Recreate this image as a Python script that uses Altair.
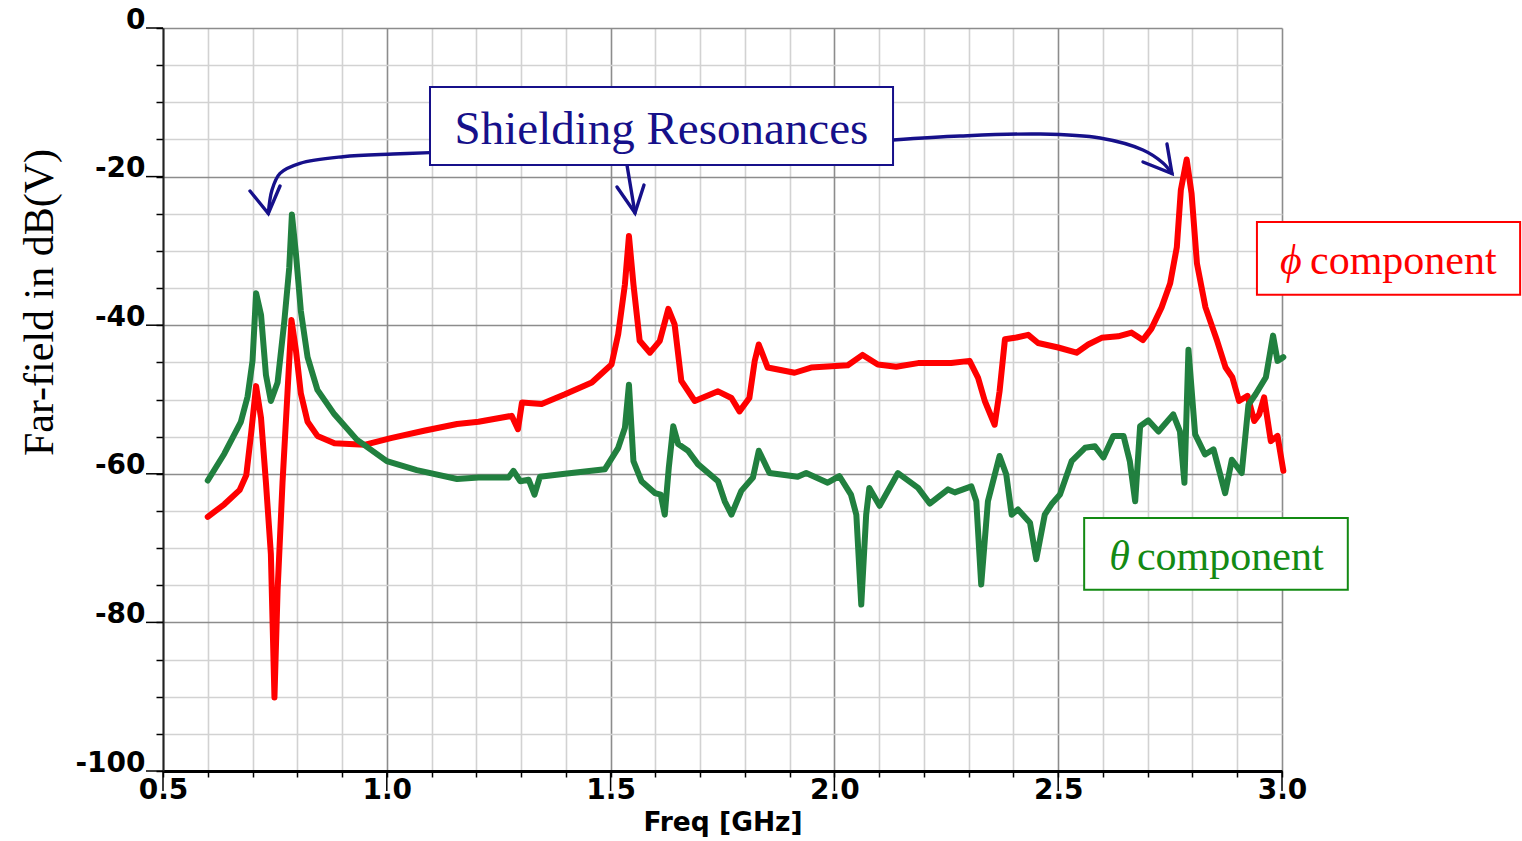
import altair as alt
import pandas as pd

# ---------------- data ----------------
phi_freq = [0.600, 0.637, 0.671, 0.686, 0.697, 0.708, 0.719, 0.730, 0.741, 0.749,
            0.756, 0.767, 0.778, 0.787, 0.797, 0.808, 0.823, 0.845, 0.883, 0.950,
            1.009, 1.083, 1.157, 1.205, 1.279, 1.293, 1.302, 1.346, 1.398, 1.458,
            1.502, 1.517, 1.532, 1.541, 1.551, 1.565, 1.588, 1.610, 1.629, 1.643,
            1.658, 1.688, 1.740, 1.770, 1.788, 1.810, 1.822, 1.831, 1.851, 1.911,
            1.948, 2.030, 2.063, 2.097, 2.138, 2.187, 2.261, 2.302, 2.321, 2.336,
            2.358, 2.369, 2.381, 2.403, 2.433, 2.455, 2.500, 2.541, 2.567, 2.597,
            2.634, 2.664, 2.689, 2.708, 2.731, 2.750, 2.765, 2.774, 2.787, 2.798,
            2.810, 2.829, 2.855, 2.874, 2.889, 2.904, 2.923, 2.938, 2.949, 2.960,
            2.975, 2.990, 3.003]
phi_db = [-65.8, -64.1, -62.2, -60.2, -54.5, -48.2, -52.5, -61.2, -70.8, -90.1,
          -75.7, -61.2, -49.2, -39.3, -43.4, -49.2, -53.0, -54.9, -55.9, -56.1,
          -55.2, -54.2, -53.3, -53.0, -52.2, -54.0, -50.4, -50.6, -49.3, -47.7,
          -45.3, -41.2, -34.5, -28.0, -34.5, -42.1, -43.7, -42.1, -37.8, -39.9,
          -47.5, -50.2, -48.9, -49.8, -51.6, -49.8, -44.8, -42.6, -45.7, -46.4,
          -45.7, -45.4, -44.0, -45.3, -45.6, -45.1, -45.1, -44.8, -47.1, -50.2,
          -53.4, -48.9, -41.9, -41.7, -41.3, -42.4, -43.0, -43.7, -42.6, -41.7,
          -41.5, -41.0, -42.0, -40.5, -37.6, -34.4, -29.5, -21.8, -17.7, -22.3,
          -31.7, -37.6, -42.1, -45.7, -47.0, -50.2, -49.5, -52.9, -52.0, -49.7,
          -55.6, -54.9, -59.6]

theta_freq = [0.600, 0.637, 0.674, 0.689, 0.700, 0.708, 0.719, 0.730, 0.741, 0.756,
              0.771, 0.782, 0.788, 0.797, 0.808, 0.823, 0.845, 0.883, 0.933, 1.000,
              1.067, 1.157, 1.205, 1.272, 1.283, 1.298, 1.317, 1.330, 1.342, 1.398,
              1.487, 1.517, 1.532, 1.541, 1.551, 1.569, 1.599, 1.612, 1.621, 1.630,
              1.640, 1.651, 1.673, 1.695, 1.740, 1.755, 1.770, 1.792, 1.818, 1.831,
              1.855, 1.918, 1.937, 1.985, 2.011, 2.037, 2.049, 2.060, 2.071, 2.078,
              2.101, 2.142, 2.187, 2.213, 2.254, 2.269, 2.306, 2.317, 2.328, 2.343,
              2.369, 2.384, 2.396, 2.410, 2.437, 2.451, 2.470, 2.485, 2.504, 2.530,
              2.560, 2.582, 2.601, 2.623, 2.646, 2.660, 2.672, 2.683, 2.701, 2.724,
              2.757, 2.772, 2.782, 2.791, 2.806, 2.828, 2.847, 2.873, 2.888, 2.910,
              2.925, 2.941, 2.964, 2.980, 2.990, 3.003]
theta_db = [-60.9, -57.3, -53.0, -49.6, -44.8, -35.7, -38.6, -46.7, -50.2, -47.7,
            -39.5, -32.3, -25.1, -30.4, -38.1, -44.3, -48.7, -52.0, -55.4, -58.3,
            -59.5, -60.7, -60.5, -60.5, -59.6, -61.0, -60.8, -62.8, -60.4, -60.0,
            -59.4, -56.5, -53.8, -48.0, -58.3, -61.0, -62.6, -62.8, -65.5, -59.2,
            -53.6, -56.0, -56.9, -58.7, -61.0, -63.7, -65.5, -62.3, -60.5, -56.9,
            -59.9, -60.4, -59.9, -61.2, -60.3, -62.8, -65.5, -77.6, -65.5, -61.9,
            -64.3, -59.9, -61.9, -64.0, -62.1, -62.5, -61.7, -63.7, -74.9, -63.7,
            -57.6, -60.1, -65.5, -64.8, -66.6, -71.5, -65.5, -64.1, -62.8, -58.3,
            -56.5, -56.3, -57.8, -54.9, -54.9, -58.3, -63.7, -53.6, -52.8, -54.3,
            -52.0, -54.3, -61.2, -43.3, -54.7, -57.4, -56.7, -62.6, -58.1, -59.9,
            -50.7, -49.3, -47.0, -41.4, -44.8, -44.3]

x_ticks = [0.5, 0.6, 0.7, 0.8, 0.9, 1.0, 1.1, 1.2, 1.3, 1.4, 1.5, 1.6, 1.7,
           1.8, 1.9, 2.0, 2.1, 2.2, 2.3, 2.4, 2.5, 2.6, 2.7, 2.8, 2.9, 3.0]
x_major = [0.5, 1.0, 1.5, 2.0, 2.5, 3.0]
y_ticks = [0, -5, -10, -15, -20, -25, -30, -35, -40, -45, -50, -55, -60,
           -65, -70, -75, -80, -85, -90, -95, -100]
y_major = [0, -20, -40, -60, -80, -100]

# annotation geometry (data units: GHz, dB)
arrow_left_f = [1.0965, 1.0139, 0.9021, 0.8060, 0.7614, 0.7435, 0.7353]
arrow_left_db = [-16.78, -16.96, -17.32, -18.21, -19.56, -21.80, -24.97]
arrow_mid_f = [1.5366, 1.5545]
arrow_mid_db = [-18.44, -24.90]
arrow_right_f = [2.131, 2.2806, 2.4593, 2.5934, 2.6894, 2.7341, 2.7542]
arrow_right_db = [-15.07, -14.54, -14.27, -14.80, -16.42, -18.17, -19.58]
head_f = [[0.6944, 0.7353, 0.7614], [1.5143, 1.5545, 1.5746], [2.6894, 2.7542, 2.7430]]
head_db = [[-21.94, -24.97, -21.27], [-21.40, -24.90, -21.13], [-18.03, -19.58, -15.61]]

box_names = ["shield", "phi", "theta"]
box_x1 = [1.0965, 2.944, 2.558]
box_x2 = [2.131, 3.532, 3.147]
box_y1 = [-7.94, -26.1, -65.95]
box_y2 = [-18.44, -35.9, -75.6]
box_colors = ["#16108a", "#ff0000", "#138a13"]

NAVY = "#16108a"
RED = "#ff0000"
GREEN_LINE = "#21803f"
GREEN_TXT = "#138a13"

W, H = 1119, 743
xs = alt.Scale(domain=[0.5, 3.0], nice=False, zero=False)
ys = alt.Scale(domain=[-100, 0], nice=False, zero=False)

grid_x = {"condition": {"test": "abs(datum.value*2 - round(datum.value*2)) < 0.001",
                        "value": "#8c8c8c"}, "value": "#d2d2d2"}
grid_y = {"condition": {"test": "datum.value % 20 === 0", "value": "#8c8c8c"},
          "value": "#d2d2d2"}

x_axis = alt.Axis(
    values=x_ticks,
    labelExpr="abs(datum.value*2 - round(datum.value*2)) < 0.001 ? format(datum.value, '.1f') : ''",
    labelFont="DejaVu Sans", labelFontWeight="bold", labelFontSize=28,
    labelColor="black", labelBaseline="top", labelPadding=-1, labelFlush=False,
    labelOverlap=False,
    tickSize=6, tickColor="black", tickWidth=1.5,
    domainColor="black", domainWidth=3,
    grid=True, gridColor=grid_x, gridWidth=1.6,
    title="Freq [GHz]", titleFont="DejaVu Sans", titleFontWeight="bold",
    titleFontSize=26.5, titleColor="black", titleX=W / 2, titleY=59,
    titleBaseline="alphabetic", titleAlign="center",
)
y_axis = alt.Axis(
    values=y_ticks,
    labelExpr="datum.value % 20 === 0 ? '' + datum.value : ''",
    labelFont="DejaVu Sans", labelFontWeight="bold", labelFontSize=28,
    labelColor="black", labelBaseline="alphabetic", labelPadding=11,
    labelFlush=False, labelOverlap=False,
    tickSize=7, tickColor="black", tickWidth=1.5,
    domainColor="#222222", domainWidth=2,
    grid=True, gridColor=grid_y, gridWidth=1.6,
    title="Far-field in dB(V)", titleFont="Liberation Serif",
    titleFontWeight="normal", titleFontSize=42, titleColor="black",
    titleAngle=270, titleX=-111, titleY=274, titleBaseline="alphabetic",
    titleAlign="center",
)


def X(field):
    return alt.X(field, scale=xs, axis=x_axis)


def Y(field):
    return alt.Y(field, scale=ys, axis=y_axis)


phi_df = pd.DataFrame({"f": phi_freq, "db": phi_db, "i": range(len(phi_freq))})
theta_df = pd.DataFrame({"f": theta_freq, "db": theta_db, "i": range(len(theta_freq))})

red = alt.Chart(phi_df).mark_line(color=RED, strokeWidth=6, strokeJoin="round",
                                  strokeCap="round").encode(
    x=X("f:Q"), y=Y("db:Q"), order="i:Q")
green = alt.Chart(theta_df).mark_line(color=GREEN_LINE, strokeWidth=6,
                                      strokeJoin="round", strokeCap="round").encode(
    x=X("f:Q"), y=Y("db:Q"), order="i:Q")

# long major ticks
x_tick_len = 20 / (H / 100.0)
y_tick_len = 17 / (W / 2.5)
xt_df = pd.DataFrame({"f": x_major, "db": [-100] * len(x_major),
                      "db2": [-100 - x_tick_len] * len(x_major)})
yt_df = pd.DataFrame({"db": y_major, "f": [0.5] * len(y_major),
                      "f2": [0.5 - y_tick_len] * len(y_major)})
xt = alt.Chart(xt_df).mark_rule(color="black", strokeWidth=1.5).encode(
    x=X("f:Q"), y=Y("db:Q"), y2="db2:Q")
yt = alt.Chart(yt_df).mark_rule(color="black", strokeWidth=1.5).encode(
    y=Y("db:Q"), x=X("f:Q"), x2="f2:Q")

# arrows
rows = []
for name, fs_, ds_ in [("l", arrow_left_f, arrow_left_db),
                       ("m", arrow_mid_f, arrow_mid_db),
                       ("r", arrow_right_f, arrow_right_db)]:
    for k, (a, b) in enumerate(zip(fs_, ds_)):
        rows.append({"seg": name, "i": k, "f": a, "db": b})
shaft_df = pd.DataFrame(rows)
rows = []
for h, (fs_, ds_) in enumerate(zip(head_f, head_db)):
    for k, (a, b) in enumerate(zip(fs_, ds_)):
        rows.append({"seg": "h%d" % h, "i": k, "f": a, "db": b})
head_df = pd.DataFrame(rows)

shafts = alt.Chart(shaft_df).mark_line(color=NAVY, strokeWidth=3.4,
                                       interpolate="catmull-rom",
                                       strokeCap="round").encode(
    x=X("f:Q"), y=Y("db:Q"), detail="seg:N", order="i:Q")
heads = alt.Chart(head_df).mark_line(color=NAVY, strokeWidth=3.4,
                                     strokeJoin="miter", strokeCap="round").encode(
    x=X("f:Q"), y=Y("db:Q"), detail="seg:N", order="i:Q")

box_df = pd.DataFrame({"name": box_names, "f": box_x1, "f2": box_x2,
                       "db": box_y1, "db2": box_y2, "c": box_colors})
boxes = alt.Chart(box_df).mark_rect(fill="white", strokeWidth=2).encode(
    x=X("f:Q"), x2="f2:Q", y=Y("db:Q"), y2="db2:Q",
    stroke=alt.Stroke("c:N", scale=None))


def txt(text, f, db, color, size, align="center", style="normal"):
    d = pd.DataFrame({"t": [text], "f": [f], "db": [db]})
    return alt.Chart(d).mark_text(font="Liberation Serif", fontSize=size,
                                  color=color, align=align, baseline="alphabetic",
                                  fontStyle=style).encode(
        x=X("f:Q"), y=Y("db:Q"), text="t:N")


t_shield = txt("Shielding Resonances", 1.6137, -15.61, NAVY, 47)
t_phi_sym = txt("ϕ", 3.0201, -33.1, RED, 42, style="italic")
t_phi = txt("component", 3.0626, -33.1, RED, 42, align="left")
t_th_sym = txt("θ", 2.637, -72.95, GREEN_TXT, 42, style="italic")
t_th = txt("component", 2.676, -72.95, GREEN_TXT, 42, align="left")

chart = alt.layer(red, green, xt, yt, shafts, heads, boxes,
                  t_shield, t_phi_sym, t_phi, t_th_sym, t_th).properties(
    width=W, height=H,
    autosize=alt.AutoSizeParams(type="none"),
    padding={"left": 163, "top": 28, "right": 240, "bottom": 70},
    background="white",
).configure_view(stroke=None)

chart.save("out.html", embed_options={"renderer": "svg", "actions": False})
